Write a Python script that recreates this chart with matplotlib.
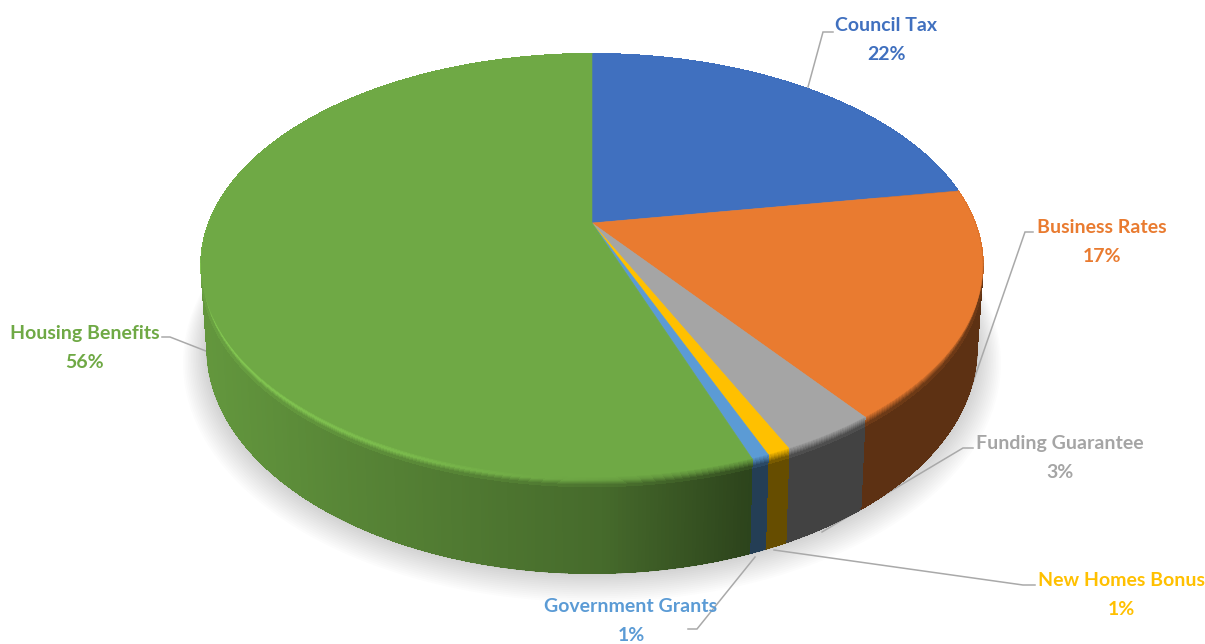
import numpy as np
import matplotlib
matplotlib.use("Agg")
import matplotlib.pyplot as plt
from matplotlib.collections import PolyCollection, LineCollection
from matplotlib.colors import to_rgb

# --- Data: share of funding, clockwise from twelve o'clock ---------------
categories = ["Council Tax", "Business Rates", "Funding Guarantee",
              "New Homes Bonus", "Government Grants", "Housing Benefits"]
shares = [22.4, 17.4, 3.3, 0.8, 0.6, 55.5]
colours = ["#4070bf", "#e97b30", "#a5a5a5", "#ffc000", "#5b9bd5", "#6fa945"]

# --- Layout, in pixels ---------------------------------------------------
label_xy = [(886, 40), (1102, 242), (1060, 458), (1121, 595), (631, 621), (85, 348)]
leaders = [
    [(808, 87), (823, 32), (833, 32)],
    [(972, 385), (1025, 232), (1033, 232)],
    [(822, 532), (963, 448), (973, 448)],
    [(774, 550), (1023, 585), (1035, 585)],
    [(755, 557), (697, 629), (688, 629)],
    [(211, 353), (170, 337), (162, 337)],
]

CX = 592
TILT = 0.2  # strength of the perspective foreshortening
TOP = dict(a=383, b=203, y0=223)
BOTTOM = dict(a=377, b=216, y0=303)


def project(theta, disc, r=1.0):
    """Map polar position on a disc (clockwise from top) to pixel coordinates."""
    u = r * np.sin(theta)
    v = -r * np.cos(theta)
    w = 1 - TILT * v
    return CX + disc["a"] * u / w, disc["y0"] + disc["b"] * v / w


def wall_factor(x):
    # the side of the pie gets darker from the left round to the front right
    return np.interp(x, [205, 330, 600, 750, 1000], [0.89, 0.80, 0.63, 0.40, 0.40])


def rim_factor(x):
    return np.interp(x, [205, 400, 600, 750, 1000], [1.2, 1.12, 0.95, 0.80, 0.75])


fig = plt.figure(figsize=(12.05, 6.44), dpi=100)
ax = fig.add_axes([0, 0, 1, 1])
ax.set_xlim(0, 1205)
ax.set_ylim(644, 0)
ax.axis("off")

# Soft shadow under the pie
ring = np.linspace(0, 2 * np.pi, 361)
for i in range(16):
    sx, sy = project(ring, BOTTOM)
    grow = 1 + i * 0.0042
    ax.fill(CX + (sx - CX) * grow, 348 + (sy - 348) * grow + i * 1.0,
            color="#000000", alpha=0.013, lw=0, zorder=1)

# Leader lines sit behind the pie
for pts in leaders:
    ax.plot(*zip(*pts), color="#a9a9a9", lw=1.1, zorder=2, solid_joinstyle="miter")

edges = 2 * np.pi * np.cumsum([0] + shares) / sum(shares)

# Side wall, built up in thin strips; strips are aliased so no seams show
for start, stop, col in zip(edges[:-1], edges[1:], colours):
    base = np.array(to_rgb(col))
    t = np.linspace(start, stop, max(int((stop - start) * 120), 3))
    xt, yt = project(t, TOP)
    xb, yb = project(t, BOTTOM)
    polys, faces, rims = [], [], []
    for i in range(len(t) - 1):
        xm = (xt[i] + xt[i + 1]) / 2
        polys.append([(xt[i], yt[i]), (xt[i + 1], yt[i + 1]),
                      (xb[i + 1], yb[i + 1]), (xb[i], yb[i])])
        faces.append(np.clip(base * wall_factor(xm), 0, 1))
        rims.append([(xb[i], yb[i]), (xb[i + 1], yb[i + 1])])
    ax.add_collection(PolyCollection(polys, facecolors=faces, edgecolors=faces,
                                     linewidths=0.6, antialiaseds=False, zorder=3))
    # smooth outer edge over the aliased strips
    ax.add_collection(LineCollection(rims, colors=faces, linewidths=1.2,
                                     capstyle="round", zorder=3.5))

    # Bevel between the top face and the wall: face colour -> rim -> wall
    bands = np.linspace(0, 1, 10)
    polys, faces = [], []
    for s0, s1 in zip(bands[:-1], bands[1:]):
        f0, f1 = s0 * 0.10, s1 * 0.10
        for i in range(len(t) - 1):
            xm = (xt[i] + xt[i + 1]) / 2
            wall = base * wall_factor(xm)
            rim = base * rim_factor(xm)
            if s0 < 0.4:
                c = base + (rim - base) * s0 / 0.4
            else:
                c = rim + (wall - rim) * (s0 - 0.4) / 0.6
            polys.append([(xt[i] + (xb[i] - xt[i]) * f0, yt[i] + (yb[i] - yt[i]) * f0),
                          (xt[i + 1] + (xb[i + 1] - xt[i + 1]) * f0, yt[i + 1] + (yb[i + 1] - yt[i + 1]) * f0),
                          (xt[i + 1] + (xb[i + 1] - xt[i + 1]) * f1, yt[i + 1] + (yb[i + 1] - yt[i + 1]) * f1),
                          (xt[i] + (xb[i] - xt[i]) * f1, yt[i] + (yb[i] - yt[i]) * f1)])
            faces.append(np.clip(c, 0, 1))
    ax.add_collection(PolyCollection(polys, facecolors=faces, edgecolors=faces,
                                     linewidths=0.6, antialiaseds=False, zorder=4))

# Top face
for start, stop, col in zip(edges[:-1], edges[1:], colours):
    t = np.linspace(start, stop, max(int((stop - start) * 180), 3))
    xs, ys = project(t, TOP)
    ax.fill(np.r_[CX, xs], np.r_[TOP["y0"], ys], color=col, lw=0.4, zorder=5)

# Labels
for name, share, col, (lx, ly) in zip(categories, shares, colours, label_xy):
    ax.text(lx, ly, f"{name}\n{share:.0f}%", color=col, ha="center", va="center",
            family="Lato", fontweight="bold", fontsize=14, linespacing=1.83, zorder=6)

fig.savefig("out.png", dpi=100)
plt.close(fig)
